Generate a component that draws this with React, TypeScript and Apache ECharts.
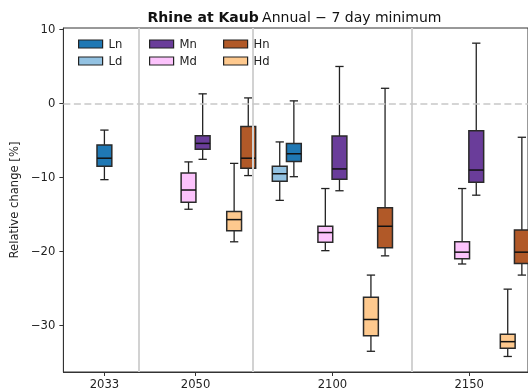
import React, { useEffect, useRef } from "react";
import * as echarts from "echarts";

// ---- data ----
const years = ["2033", "2050", "2100", "2150"];
const seriesNames = ["Ln", "Ld", "Mn", "Md", "Hn", "Hd"];
const yTicks = [-30, -20, -10, 0, 10];
// each entry: [min, q1, median, q3, max] per year (null = no box)
const Ln = [[-10.3, -8.5, -7.4, -5.6, -3.6], null, [-9.9, -7.85, -6.8, -5.4, 0.35], null];
const Ld = [null, null, [-13.1, -10.5, -9.5, -8.5, -5.2], null];
const Mn = [null, [-7.55, -6.2, -5.4, -4.35, 1.3], [-11.8, -10.25, -8.85, -4.4, 5.0], [-12.4, -10.65, -9.0, -3.7, 8.15]];
const Md = [null, [-14.3, -13.35, -11.7, -9.4, -7.9], [-19.9, -18.75, -17.45, -16.6, -11.5], [-21.7, -21.0, -20.1, -18.7, -11.5]];
const Hn = [null, [-9.75, -8.75, -7.4, -3.1, 0.75], [-20.6, -19.5, -16.6, -14.1, 2.05], [-23.2, -21.65, -20.1, -17.1, -4.57]];
const Hd = [null, [-18.7, -17.2, -15.7, -14.6, -8.1], [-33.5, -31.4, -29.2, -26.2, -23.2], [-34.2, -33.1, -32.2, -31.2, -25.1]];

// ---- layout ----
const groupPos = [0, 2, 5, 8];
const separators = [0.75, 3.25, 6.75];
const pairOffset: Record<string, number> = { L: -1, M: 0, H: 1 };
const subOffset: Record<string, number> = { n: 0.155, d: -0.155 };
const colors: Record<string, string> = {
  Ln: "#1f78b4",
  Ld: "#93c2e2",
  Mn: "#6a3d9a",
  Md: "#fcc3fc",
  Hn: "#b15928",
  Hd: "#fec98e",
};
const FONT = "DejaVu Sans";
const FS = 11.6;

const allStats: Record<string, (number[] | null)[]> = { Ln, Ld, Mn, Md, Hn, Hd };

export default function App() {
  const ref = useRef<HTMLDivElement>(null);
  useEffect(() => {
    if (!ref.current) return;
    const chart = echarts.init(ref.current, undefined, { renderer: "svg" });

    const counts = years.map((_, yi) => seriesNames.filter((n) => allStats[n][yi]).length);

    const boxSeries = seriesNames.map((name) => {
      const data: number[][] = [];
      allStats[name].forEach((s, yi) => {
        if (!s) return;
        const x = counts[yi] === 1 ? groupPos[yi] : groupPos[yi] + pairOffset[name[0]] + subOffset[name[1]];
        data.push([x, ...s]);
      });
      const color = colors[name];
      return {
        type: "custom",
        name,
        z: 3,
        itemStyle: { color, borderColor: "#222", borderWidth: 1.2 },
        encode: { x: 0, y: [1, 2, 3, 4, 5] },
        data,
        renderItem: (params: any, api: any) => {
          const x = api.value(0);
          const pMin = api.coord([x, api.value(1)]);
          const pQ1 = api.coord([x, api.value(2)]);
          const pMed = api.coord([x, api.value(3)]);
          const pQ3 = api.coord([x, api.value(4)]);
          const pMax = api.coord([x, api.value(5)]);
          const w = api.size([0.325, 0])[0];
          const cx = pMed[0];
          const hw = w / 2;
          const cap = w * 0.28;
          const ls = { stroke: "#222", lineWidth: 1.3 };
          return {
            type: "group",
            children: [
              { type: "line", shape: { x1: cx, y1: pMax[1], x2: cx, y2: pQ3[1] }, style: ls },
              { type: "line", shape: { x1: cx, y1: pQ1[1], x2: cx, y2: pMin[1] }, style: ls },
              { type: "line", shape: { x1: cx - cap, y1: pMax[1], x2: cx + cap, y2: pMax[1] }, style: ls },
              { type: "line", shape: { x1: cx - cap, y1: pMin[1], x2: cx + cap, y2: pMin[1] }, style: ls },
              {
                type: "rect",
                shape: { x: cx - hw, y: pQ3[1], width: w, height: pQ1[1] - pQ3[1] },
                style: { fill: color, stroke: "#2a2a2a", lineWidth: 1.5 },
              },
              { type: "line", shape: { x1: cx - hw, y1: pMed[1], x2: cx + hw, y2: pMed[1] }, style: { stroke: "#111", lineWidth: 1.5 } },
            ],
          };
        },
      };
    });

    const refSeries = {
      type: "line",
      data: [],
      z: 1,
      silent: true,
      markLine: {
        silent: true,
        symbol: "none",
        label: { show: false },
        animation: false,
        data: [
          ...separators.map((s) => ({ xAxis: s, lineStyle: { color: "#d2d2d2", width: 2, type: "solid" } })),
          { yAxis: 0, lineStyle: { color: "#c8c8c8", width: 1.6, type: [7, 3.5] } },
        ],
      },
    };

    const mkLegend = (names: string[], left: number) => ({
      show: true,
      orient: "vertical",
      left,
      top: 32,
      itemWidth: 24,
      itemHeight: 8,
      itemGap: 3,
      selectedMode: false,
      textStyle: { fontFamily: FONT, fontSize: FS, color: "#222", lineHeight: 14, padding: [0, 0, 0, 1] },
      data: names.map((n) => ({
        name: n,
        icon: "rect",
        itemStyle: { color: colors[n], borderColor: "#222", borderWidth: 1.2 },
      })),
    });

    chart.setOption({
      animation: false,
      textStyle: { fontFamily: FONT },
      grid: { left: 63, top: 28, width: 470, height: 344, show: true, borderColor: "#333", borderWidth: 1, containLabel: false },
      graphic: [
        {
          type: "text",
          x: 294.5,
          y: 17,
          style: {
            text: "{b|Rhine at Kaub} {n|Annual \u2212 7 day minimum}",
            align: "center",
            verticalAlign: "middle",
            rich: {
              b: { fontFamily: FONT, fontSize: 14, fontWeight: "bold", fill: "#111" },
              n: { fontFamily: FONT, fontSize: 14, fill: "#111" },
            },
          },
        },
      ],
      legend: [mkLegend(["Ln", "Ld"], 73), mkLegend(["Mn", "Md"], 144), mkLegend(["Hn", "Hd"], 218)],
      xAxis: {
        type: "value",
        min: -0.9,
        max: -0.9 + 470 / 46.125,
        splitLine: { show: false },
        axisLine: { show: true, onZero: false, lineStyle: { color: "#333", width: 1 } },
        axisTick: { show: true, length: 4, customValues: groupPos, lineStyle: { color: "#333" } },
        axisLabel: {
          customValues: groupPos,
          margin: 6,
          fontFamily: FONT,
          fontSize: FS,
          color: "#222",
          formatter: (v: number) => {
            const i = groupPos.indexOf(Math.round(v * 1000) / 1000);
            return i >= 0 ? years[i] : "";
          },
        },
      },
      yAxis: {
        type: "value",
        min: -36.3,
        max: 10.2,
        name: "Relative change [%]",
        nameLocation: "middle",
        nameGap: 33,
        nameTextStyle: { fontFamily: FONT, fontSize: FS, color: "#222" },
        splitLine: { show: false },
        axisLine: { show: true, onZero: false, lineStyle: { color: "#333", width: 1 } },
        axisTick: { show: true, length: 4, customValues: yTicks, lineStyle: { color: "#333" } },
        axisLabel: {
          customValues: yTicks,
          margin: 8,
          fontFamily: FONT,
          fontSize: FS,
          color: "#222",
          formatter: (v: number) => (v < 0 ? "\u2212" + Math.abs(v) : String(v)),
        },
      },
      series: [refSeries, ...boxSeries],
    });
    return () => chart.dispose();
  }, []);
  return <div ref={ref} style={{ position: "fixed", left: 0, top: 0, width: 528, height: 392 }} />;
}
